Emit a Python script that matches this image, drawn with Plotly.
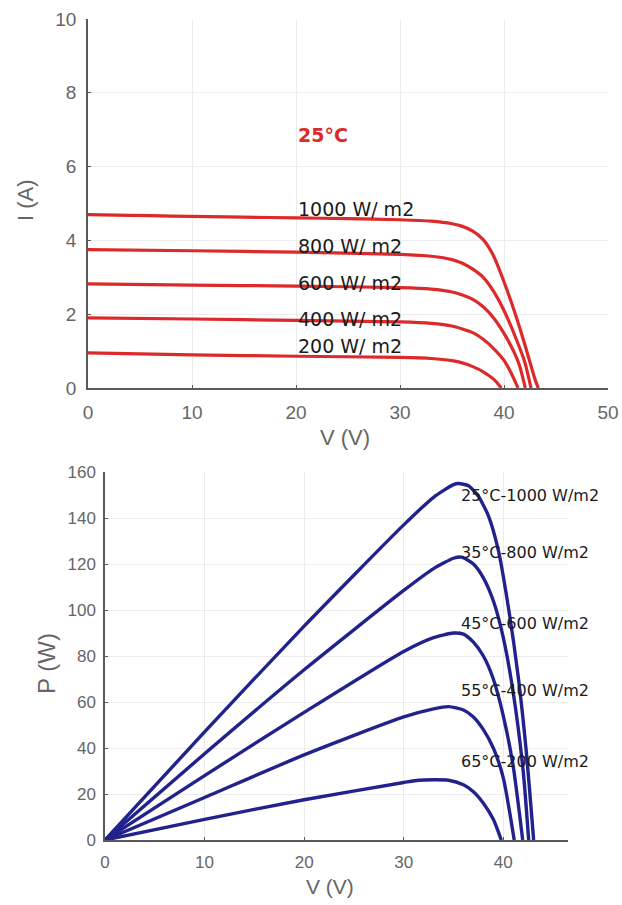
import plotly.graph_objects as go

# ---------------- Top chart: I-V curves at 25°C ----------------
iv_labels = ["1000 W/ m2", "800 W/ m2", "600 W/ m2", "400 W/ m2", "200 W/ m2"]

v_1000 = [0, 4, 8, 15, 20, 25, 30, 33, 35, 36, 37, 38, 39, 40, 41, 42, 43, 43.3]
i_1000 = [4.70, 4.68, 4.66, 4.63, 4.61, 4.59, 4.56, 4.52, 4.45, 4.38, 4.25, 4.02, 3.58, 2.88, 2.08, 1.18, 0.22, 0]

v_800 = [0, 10, 20, 30, 33, 35, 36, 37, 38, 39, 40, 41, 42, 42.6]
i_800 = [3.75, 3.72, 3.68, 3.62, 3.57, 3.48, 3.38, 3.22, 3.0, 2.62, 2.1, 1.45, 0.7, 0]

v_600 = [0, 10, 20, 30, 33, 35, 36, 37, 38, 39, 40, 41, 41.5, 42.05]
i_600 = [2.82, 2.79, 2.76, 2.72, 2.68, 2.6, 2.52, 2.4, 2.2, 1.9, 1.48, 0.95, 0.6, 0]

v_400 = [0, 10, 20, 30, 33, 35, 36, 37, 38, 39, 40, 40.7, 41.35]
i_400 = [1.90, 1.87, 1.83, 1.79, 1.75, 1.68, 1.60, 1.50, 1.32, 1.07, 0.75, 0.4, 0]

v_200 = [0, 10, 20, 30, 33, 35, 36, 37, 38, 39, 39.75]
i_200 = [0.95, 0.90, 0.86, 0.83, 0.80, 0.74, 0.68, 0.58, 0.44, 0.24, 0]

iv_label_y = [4.85, 3.85, 2.85, 1.88, 1.15]
temp_label = "25°C"

# ---------------- Bottom chart: P-V curves ----------------
pv_labels = ["25°C-1000 W/m2", "35°C-800 W/m2", "45°C-600 W/m2", "55°C-400 W/m2", "65°C-200 W/m2"]

pv_v_1000 = [0, 10, 20, 30, 33, 35, 35.5, 36.5, 37.5, 38.5, 39.5, 40.5, 41.5, 42.3, 43.05]
pv_p_1000 = [0, 47, 93, 137, 149, 154.5, 155, 154, 149.5, 141, 126, 101.5, 71, 39, 0]

pv_v_800 = [0, 10, 20, 30, 33, 35, 35.8, 37, 38, 39, 40, 41, 42, 42.55]
pv_p_800 = [0, 37.5, 74, 108.5, 118, 122.5, 123, 120, 114, 104, 88, 64, 30, 0]

pv_v_600 = [0, 10, 20, 30, 33, 35, 36, 37, 38, 39, 40, 41, 41.95]
pv_p_600 = [0, 28, 55.5, 82, 88, 90, 89.5, 86, 80, 70, 54, 32, 0]

pv_v_400 = [0, 10, 20, 30, 33, 34.5, 36, 37, 38, 39, 40, 41.1]
pv_p_400 = [0, 18.5, 37, 53.5, 57, 58, 56.5, 53.5, 48, 40, 27, 0]

pv_v_200 = [0, 10, 20, 30, 31.5, 34.5, 36, 37, 38, 39, 39.8]
pv_p_200 = [0, 9, 17.5, 25, 26, 26, 24, 21, 16, 9, 0]

pv_label_y = [150, 125, 94, 65, 34]

iv_v = [v_1000, v_800, v_600, v_400, v_200]
iv_i = [i_1000, i_800, i_600, i_400, i_200]
pv_v = [pv_v_1000, pv_v_800, pv_v_600, pv_v_400, pv_v_200]
pv_p = [pv_p_1000, pv_p_800, pv_p_600, pv_p_400, pv_p_200]

RED = "#dc2a2a"
BLUE = "#22228c"
AXIS = "#5a5a5a"
TICK = "#666666"
GRID = "#ececec"

fig = go.Figure()
for v, i, name in zip(iv_v, iv_i, iv_labels):
    fig.add_trace(go.Scatter(x=v, y=i, mode="lines", name=name,
                             line=dict(color=RED, width=3.2, shape="spline", smoothing=0.6),
                             xaxis="x", yaxis="y", showlegend=False))
for v, p, name in zip(pv_v, pv_p, pv_labels):
    fig.add_trace(go.Scatter(x=v, y=p, mode="lines", name=name,
                             line=dict(color=BLUE, width=3.4, shape="spline", smoothing=0.6),
                             xaxis="x2", yaxis="y2", showlegend=False))

axis_common = dict(showline=True, linecolor=AXIS, linewidth=1.5, showgrid=True, gridcolor=GRID,
                   gridwidth=1, zeroline=False, ticks="inside", ticklen=3, tickcolor=AXIS,
                   mirror=False, automargin=False)

fig.update_layout(
    width=622, height=905,
    margin=dict(l=0, r=0, t=0, b=0, autoexpand=False),
    paper_bgcolor="white", plot_bgcolor="white",
    xaxis=dict(domain=[88 / 622, 608 / 622], range=[0, 50], dtick=10, anchor="y",
               ticklabelstandoff=6,
               tickfont=dict(family="Liberation Sans, Arial", size=19, color=TICK), **axis_common),
    yaxis=dict(domain=[(905 - 388) / 905, (905 - 19) / 905], range=[0, 10], dtick=2, anchor="x",
               ticklabelstandoff=6,
               tickfont=dict(family="Liberation Sans, Arial", size=19, color=TICK), **axis_common),
    xaxis2=dict(domain=[105 / 622, 568 / 622], range=[0, 46.5], dtick=10, anchor="y2",
                ticklabelstandoff=6,
                tickfont=dict(family="Liberation Sans, Arial", size=17, color=TICK), **axis_common),
    yaxis2=dict(domain=[(905 - 840) / 905, (905 - 472) / 905], range=[0, 160], dtick=20, anchor="x2",
                ticklabelstandoff=4,
                tickfont=dict(family="Liberation Sans, Arial", size=17, color=TICK), **axis_common),
)

annotations = []
title_font = dict(family="Liberation Sans, Arial", size=22, color=TICK)
# axis titles
annotations.append(dict(text="V (V)", x=345 / 622, y=1 - 437 / 905, xref="paper", yref="paper",
                        xanchor="center", yanchor="middle", showarrow=False, font=title_font))
annotations.append(dict(text="I (A)", x=25 / 622, y=1 - 200 / 905, xref="paper", yref="paper",
                        xanchor="center", yanchor="middle", showarrow=False, textangle=-90,
                        font=title_font))
annotations.append(dict(text="V (V)", x=330 / 622, y=1 - 886 / 905, xref="paper", yref="paper",
                        xanchor="center", yanchor="middle", showarrow=False,
                        font=dict(family="Liberation Sans, Arial", size=21, color=TICK)))
annotations.append(dict(text="P (W)", x=46 / 622, y=1 - 664 / 905, xref="paper", yref="paper",
                        xanchor="center", yanchor="middle", showarrow=False, textangle=-90,
                        font=dict(family="Liberation Sans, Arial", size=24, color=TICK)))
# temperature label
annotations.append(dict(text=f"<b>{temp_label}</b>", x=20.0, y=6.85, xref="x", yref="y",
                        xanchor="left", yanchor="middle", showarrow=False,
                        font=dict(family="DejaVu Sans", size=19, color=RED)))
for lab, ly in zip(iv_labels, iv_label_y):
    annotations.append(dict(text=lab, x=20.0, y=ly, xref="x", yref="y", xanchor="left",
                            yanchor="middle", showarrow=False,
                            font=dict(family="DejaVu Sans", size=19, color="#1a1a1a")))
for lab, ly in zip(pv_labels, pv_label_y):
    annotations.append(dict(text=lab, x=35.6, y=ly, xref="x2", yref="y2", xanchor="left",
                            yanchor="middle", showarrow=False,
                            font=dict(family="DejaVu Sans", size=16, color="#1a1a1a")))
fig.update_layout(annotations=annotations)

fig.write_html("out.html")
